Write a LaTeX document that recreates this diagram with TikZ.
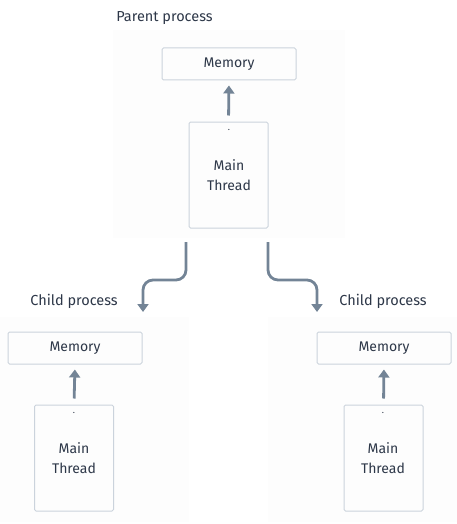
\documentclass[tikz,border=0pt]{standalone}
\usepackage{fontspec}
\setmainfont{Fira Sans}
\usetikzlibrary{arrows.meta}
\definecolor{txtcol}{HTML}{2D3748}
\definecolor{boxcol}{HTML}{CBD3DC}
\definecolor{arrcol}{HTML}{738496}
\definecolor{panelcol}{HTML}{FDFDFD}
\tikzset{
  membox/.style={draw=boxcol, line width=1pt, rounded corners=1.5pt, minimum width=134pt, minimum height=32pt, text=txtcol, font=\fontsize{14}{16}\selectfont},
  threadbox/.style={draw=boxcol, line width=1pt, rounded corners=1.5pt, minimum width=79pt, minimum height=106pt, text=txtcol},
  lbl/.style={text=txtcol, font=\fontsize{14.5}{16}\selectfont, inner sep=0pt},
  threadtxt/.style={text=txtcol, align=center, font=\fontsize{14}{20}\selectfont, inner sep=0pt},
  dotmark/.style={text=txtcol, font=\small, inner sep=0pt},
  uparr/.style={draw=arrcol, line width=2.8pt, shorten <=6pt, shorten >=5pt, -{Triangle[length=8pt, width=11pt]}},
  forkarr/.style={draw=arrcol, line width=2.8pt, rounded corners=10pt, -{Triangle[length=8pt, width=11pt]}}
}
\begin{document}
\begin{tikzpicture}[x=1pt, y=-1pt]
\useasboundingbox (0,0) rectangle (457,524);
\fill[panelcol] (113,30) rectangle (345,238);
\fill[panelcol] (0,317) rectangle (189,522);
\fill[panelcol] (268,317) rectangle (457,522);

\node[lbl] (parentlbl) at (164.5,18) {Parent process};
\node[membox] (pmem) at (229,64) {Memory};
\node[threadbox] (pthread) at (228.5,175) {};
\node[dotmark] (pdot) at (229,130) {.};
\node[threadtxt] (ptxt) at (229,175) {Main\\Thread};
\draw[uparr] (pthread.north) -- (pmem.south);

\node[lbl] (leftlbl) at (74,301) {Child process};
\node[membox] (lmem) at (75,348) {Memory};
\node[threadbox] (lthread) at (74,458) {};
\node[dotmark] (ldot) at (74,413) {.};
\node[threadtxt] (ltxt) at (74,458) {Main\\Thread};
\draw[uparr] (lthread.north) -- (lmem.south);

\node[lbl] (rightlbl) at (383,301) {Child process};
\node[membox] (rmem) at (384,348) {Memory};
\node[threadbox] (rthread) at (383.5,458) {};
\node[dotmark] (rdot) at (383,413) {.};
\node[threadtxt] (rtxt) at (383,458) {Main\\Thread};
\draw[uparr] (rthread.north) -- (rmem.south);

% fork arrows
\coordinate (lstart) at (186,242);
\coordinate (lend) at (143,312);
\coordinate (rstart) at (268,242);
\coordinate (rend) at (317,312);
\draw[forkarr] (lstart) -- (186,280) -- (143,280) -- (lend);
\draw[forkarr] (rstart) -- (268,280) -- (317,280) -- (rend);
\end{tikzpicture}
\end{document}
